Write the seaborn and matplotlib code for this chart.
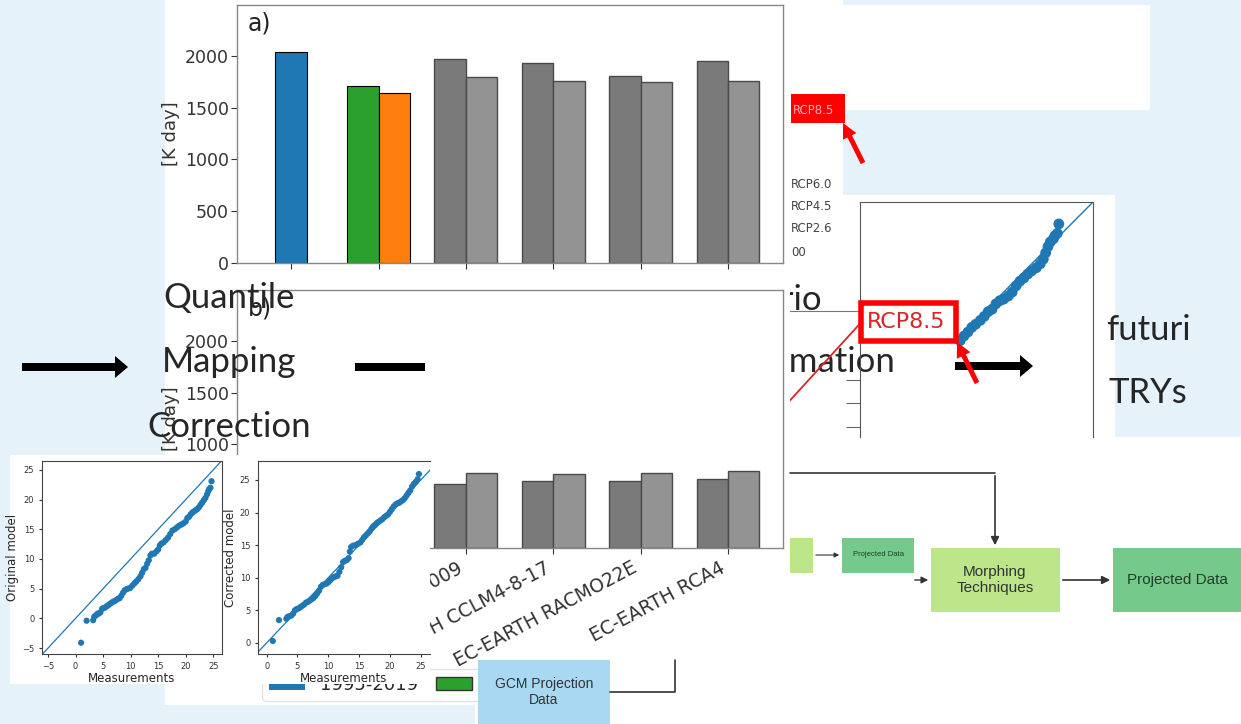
import pandas as pd
import seaborn as sns
import matplotlib.pyplot as plt
import matplotlib.transforms as mtrans
from matplotlib.patches import Rectangle, FancyArrow, FancyArrowPatch, Patch
from matplotlib.lines import Line2D

# --- dati dei grafici a barre (gradi giorno, [K day]) ---
gruppi = ['1995-2019', '1995-2019 corr.', '1980-2009', 'EC-EARTH CCLM4-8-17',
          'EC-EARTH RACMO22E', 'EC-EARTH RCA4']
periodi = ['storico', 'futuro']
a_misure = [2035]
a_corretti = [1710, 1642]
a_rcm_storico = [1971, 1932, 1807, 1952]
a_rcm_futuro = [1797, 1758, 1749, 1758]
b_misure = [640]
b_corretti = [700, 690]
b_rcm_storico = [618, 647, 647, 667]
b_rcm_futuro = [725, 715, 725, 744]
legenda = ['1995-2019', 'QM']

# --- QQ plot: modello originale vs misure ---
qq_orig_mis = [1.0, 2.0, 3.2, 3.4, 3.7, 4.0, 4.2, 4.5, 4.8, 5.0,
               5.3, 5.6, 5.9, 6.2, 6.5, 6.8, 7.1, 7.4, 7.7, 8.0,
               8.3, 8.6, 8.9, 9.2, 9.5, 9.9, 10.3, 10.7, 11.0, 11.4,
               11.8, 12.1, 12.4, 12.7, 13.0, 13.3, 13.6, 13.9, 14.3, 14.7,
               15.0, 15.3, 15.6, 16.0, 16.4, 16.8, 17.2, 17.6, 18.0, 18.4,
               18.8, 19.2, 19.6, 20.0, 20.3, 20.6, 20.9, 21.2, 21.5, 21.8,
               22.1, 22.4, 22.7, 23.0, 23.3, 23.6, 23.9, 24.1, 24.3, 24.5,
               24.7]
qq_orig_mod = [-4.1, -0.4, -0.3, 0.3, 0.5, 0.8, 0.8, 1.0, 1.6, 1.7,
               1.8, 2.0, 2.2, 2.4, 2.6, 2.8, 2.9, 3.1, 3.3, 3.4,
               3.8, 4.3, 4.7, 4.9, 5.0, 5.1, 5.5, 5.9, 6.2, 6.6,
               7.1, 7.7, 8.3, 8.5, 9.2, 9.8, 10.6, 10.9, 10.9, 11.3,
               11.6, 12.3, 12.6, 12.8, 13.2, 13.6, 14.2, 14.8, 15.0, 15.3,
               15.6, 15.8, 16.0, 16.3, 16.9, 17.1, 17.5, 17.8, 18.0, 18.2,
               18.4, 18.7, 19.1, 19.5, 19.9, 20.3, 20.9, 21.4, 21.8, 22.0,
               23.1]
# --- QQ plot: modello corretto vs misure ---
qq_corr_mis = [1.0, 2.0, 3.2, 3.4, 3.7, 4.0, 4.3, 4.6, 4.9, 5.2,
               5.5, 5.8, 6.1, 6.4, 6.7, 7.0, 7.3, 7.6, 7.9, 8.2,
               8.5, 8.8, 9.1, 9.4, 9.7, 10.0, 10.3, 10.6, 10.9, 11.2,
               11.5, 11.8, 12.1, 12.4, 12.7, 13.0, 13.3, 13.5, 13.7, 14.0,
               14.4, 14.8, 15.2, 15.5, 15.8, 16.1, 16.4, 16.7, 17.0, 17.3,
               17.6, 17.9, 18.2, 18.5, 18.8, 19.1, 19.4, 19.7, 20.0, 20.3,
               20.6, 20.9, 21.2, 21.5, 21.8, 22.1, 22.4, 22.7, 23.0, 23.3,
               23.6, 23.9, 24.2, 24.5, 24.7]
qq_corr_mod = [0.3, 3.5, 3.7, 4.0, 4.1, 4.2, 4.5, 5.0, 5.2, 5.3,
               5.5, 5.7, 5.9, 6.2, 6.3, 6.5, 6.7, 6.9, 7.2, 7.6,
               8.0, 8.6, 8.9, 9.0, 9.1, 9.3, 9.6, 9.9, 10.1, 10.2,
               10.3, 10.9, 11.6, 12.4, 12.6, 12.7, 13.0, 14.0, 14.7, 14.9,
               15.0, 15.2, 15.4, 15.8, 16.2, 16.5, 16.8, 17.1, 17.5, 17.9,
               18.1, 18.4, 18.6, 18.8, 19.0, 19.3, 19.5, 19.7, 20.1, 20.5,
               20.9, 21.2, 21.4, 21.5, 21.7, 21.9, 22.2, 22.6, 23.0, 23.4,
               24.0, 24.4, 24.7, 25.1, 25.9]
qq_lim = [-10, 30]
# --- QQ plot scenario RCP8.5 (ritagliato) ---
rcp_x = [12.9, 13.4, 13.9, 14.4, 14.9, 15.5, 16.0, 16.5, 17.0, 17.5,
         18.0, 18.5, 19.1, 19.6, 20.1, 20.6, 21.1, 21.6, 22.1, 22.7,
         23.2, 23.6, 23.9, 24.2, 24.5, 24.9, 25.1, 25.4, 25.6]
rcp_y = [12.3, 12.9, 13.4, 14.0, 14.4, 14.9, 15.4, 16.0, 16.3, 17.0,
         17.4, 17.6, 18.0, 18.5, 19.3, 19.9, 20.3, 20.8, 21.2, 21.6,
         22.1, 22.7, 23.5, 24.3, 24.9, 25.3, 25.7, 26.0, 27.2]
rcp_lim = [12.5, 30]
rosso_x = [0, 1]
rosso_y = [0.29, 0.9]
rcp_etichette = ['RCP6.0', 'RCP4.5', 'RCP2.6', '00']

W, H = 1241, 724
sns.set_style('white', {'xtick.bottom': True, 'ytick.left': True})
plt.rcParams['font.family'] = ['DejaVu Sans']

fig = plt.figure(figsize=(W / 100, H / 100), dpi=100)
fig.patch.set_facecolor('#e5f2fa')
tpx = mtrans.Affine2D().scale(1 / W, -1 / H).translate(0, 1) + fig.transFigure


def assi(x0, y0, x1, y1, z):
    return fig.add_axes([x0 / W, 1 - y1 / H, (x1 - x0) / W, (y1 - y0) / H], zorder=z)


def rett(x0, y0, x1, y1, z, **kw):
    fig.add_artist(Rectangle((x0, y0), x1 - x0, y1 - y0, transform=tpx, zorder=z, **kw))


def freccia(x0, y0, x1, y1, z, w=8, hw=22, hl=13, col='black'):
    fig.add_artist(FancyArrow(x0, y0, x1 - x0, y1 - y0, width=w, head_width=hw, head_length=hl,
                              length_includes_head=True, transform=tpx, zorder=z, color=col, lw=0))


def testo(x, y, s, z, **kw):
    fig.text(x / W, 1 - y / H, s, zorder=z, **kw)


# sfondi bianchi delle immagini incollate
rett(165, 0, 425, 705, 0.1, color='white', lw=0)
rett(790, 5, 1150, 110, 0.1, color='white', lw=0)
rett(790, 0, 843, 290, 0.1, color='white', lw=0)
rett(783, 230, 860, 437, 0.1, color='white', lw=0)
rett(843, 195, 1115, 437, 0.1, color='white', lw=0)
rett(475, 437, 1241, 724, 0.1, color='white', lw=0)
testo(822, 300, 'Scenario', 0.2, fontsize=25, family='Lato', ha='right', va='center')
testo(895, 362, 'Transformation', 0.2, fontsize=25, family='Lato', ha='right', va='center')
freccia(22, 367, 128, 367, 0.2)
freccia(355, 367, 470, 367, 0.2)
rett(425, 0, 790, 705, 0.3, color='white', lw=0)


def barre(ax, misure, corretti, storico, futuro):
    df_mis = pd.DataFrame({'gruppo': gruppi[:1], 'valore': misure})
    sns.barplot(data=df_mis, x='gruppo', y='valore', order=gruppi, color='#1f77b4',
                width=0.36, saturation=1, edgecolor='black', linewidth=0.8, errorbar=None, ax=ax)
    df_corr = pd.DataFrame({'gruppo': [gruppi[1]] * 2, 'periodo': periodi, 'valore': corretti})
    sns.barplot(data=df_corr, x='gruppo', y='valore', hue='periodo', order=gruppi, hue_order=periodi,
                palette=['#2ca02c', '#ff7f0e'], width=0.72, saturation=1, edgecolor='black',
                linewidth=0.8, errorbar=None, legend=False, ax=ax)
    df_rcm = pd.DataFrame({'gruppo': gruppi[2:] * 2,
                           'periodo': ['storico'] * 4 + ['futuro'] * 4,
                           'valore': storico + futuro})
    sns.barplot(data=df_rcm, x='gruppo', y='valore', hue='periodo', order=gruppi, hue_order=periodi,
                palette=['#7a7a7a', '#939393'], width=0.72, saturation=1, edgecolor='#4a4a4a',
                linewidth=1.0, errorbar=None, legend=False, ax=ax)
    ax.set_xlim(-0.62, 5.63)
    ax.set_ylim(0, 2490)
    ax.set_yticks([0, 500, 1000, 1500, 2000])
    ax.tick_params(axis='y', labelsize=12.5, colors='#333333', length=4, pad=2)
    ax.tick_params(axis='x', length=4, colors='#333333')
    ax.set_xlabel('')
    ax.set_ylabel('[K day]', fontsize=13, color='#333333', labelpad=3)
    ax.set_facecolor('none')
    for s in ax.spines.values():
        s.set_color('#888888')
        s.set_linewidth(1.0)


# pannello a)
ax_a = assi(237, 5, 783, 263, 1)
barre(ax_a, a_misure, a_corretti, a_rcm_storico, a_rcm_futuro)
ax_a.set_xticks(range(len(gruppi)))
ax_a.set_xticklabels([])
ax_a.text(0.02, 0.93, 'a)', transform=ax_a.transAxes, fontsize=17, va='center', color='#222222')

# pannello b)
ax_b = assi(237, 290, 783, 548, 1)
barre(ax_b, b_misure, b_corretti, b_rcm_storico, b_rcm_futuro)
ax_b.set_xticks(range(len(gruppi)))
ax_b.set_xticklabels(gruppi, rotation=28, ha='right', fontsize=13.5, color='#333333')
ax_b.text(0.02, 0.93, 'b)', transform=ax_b.transAxes, fontsize=17, va='center', color='#222222')
maniglie = [Patch(facecolor='#1f77b4', edgecolor='none'),
            Patch(facecolor='#2ca02c', edgecolor='#333333')]
ax_b.legend(maniglie, legenda, loc='lower left', bbox_to_anchor=(262 / W, 1 - 701 / H),
            bbox_transform=fig.transFigure, ncol=2, fontsize=13, handlelength=2.0,
            handleheight=0.7, columnspacing=1.0, frameon=True, edgecolor='#dddddd',
            borderaxespad=0)

# immagine QQ (sopra al pannello b)
rett(10, 455, 430, 684, 2, color='white', lw=0)


def qq(ax, mis, mod, xlim, ylim, ylab, xt, yt):
    sns.scatterplot(x=mis, y=mod, ax=ax, s=20, color='#1f77b4', edgecolor='none')
    sns.lineplot(x=qq_lim, y=qq_lim, ax=ax, color='#1f77b4', lw=0.9)
    ax.set_xlim(*xlim)
    ax.set_ylim(*ylim)
    ax.set_xticks(xt)
    ax.set_yticks(yt)
    ax.tick_params(labelsize=6, colors='#333333', length=2)
    ax.set_xlabel('Measurements', fontsize=8.5, labelpad=1)
    ax.set_ylabel(ylab, fontsize=8.5, labelpad=2)
    for s in ax.spines.values():
        s.set_color('#444444')
        s.set_linewidth(0.8)


ax_q1 = assi(42, 461, 222, 654, 3)
qq(ax_q1, qq_orig_mis, qq_orig_mod, (-6.1, 26.6), (-6.0, 26.5), 'Original model',
   [-5, 0, 5, 10, 15, 20, 25], [-5, 0, 5, 10, 15, 20, 25])
ax_q2 = assi(258, 461, 430, 654, 3)
qq(ax_q2, qq_corr_mis, qq_corr_mod, (-1.4, 26.5), (-1.7, 27.9), 'Corrected model',
   [0, 5, 10, 15, 20, 25], [0, 5, 10, 15, 20, 25])
ax_q2.spines['right'].set_visible(False)

# QQ scenario (a destra)
ax_q3 = assi(860, 202, 1093, 437, 1)
ax_q3.set_facecolor('none')
sns.lineplot(x=rcp_lim, y=rcp_lim, ax=ax_q3, color='#1f77b4', lw=1.0)
sns.scatterplot(x=rcp_x, y=rcp_y, ax=ax_q3, s=60, color='#1f77b4', edgecolor='none')
ax_q3.set_xlim(0, 30)
ax_q3.set_ylim(0, 30)
ax_q3.set_xticks([])
ax_q3.set_yticks([1.3, 4.3, 7.3])
ax_q3.set_yticklabels([])
ax_q3.tick_params(axis='y', length=10, colors='#666666')
ax_q3.spines['bottom'].set_visible(False)
for s in ['left', 'top', 'right']:
    ax_q3.spines[s].set_color('#555555')

ax_r = assi(790, 311, 860, 437, 1)
ax_r.set_facecolor('none')
sns.lineplot(x=rosso_x, y=rosso_y, ax=ax_r, color='#d62728', lw=1.3)
ax_r.set_xlim(0, 1)
ax_r.set_ylim(0, 1)
ax_r.set_xticks([])
ax_r.set_yticks([])
for s in ['left', 'bottom', 'right']:
    ax_r.spines[s].set_visible(False)
ax_r.spines['top'].set_color('#777777')

# testi della slide
for y, s in zip([298, 362, 427], ['Quantile', 'Mapping', 'Correction']):
    testo(229, y, s, 5, fontsize=25, family='Lato', ha='center', va='center')
testo(1148, 330, 'futuri', 5, fontsize=25, family='Lato', ha='center', va='center')
testo(1148, 393, 'TRYs', 5, fontsize=25, family='Lato', ha='center', va='center')
freccia(955, 366, 1033, 366, 5)

# etichette RCP e riquadri rossi
for y, s in zip([184, 206, 228, 252], rcp_etichette):
    testo(791, y, s, 5, fontsize=8.5, color='#444444', va='center')
rett(791, 94, 845, 123, 5, color='#ff0000', lw=0)
testo(793, 110, 'RCP8.5', 5, fontsize=8.5, color='#ffb3b3', va='center')
rett(861, 303, 956, 341, 5, facecolor='white', edgecolor='#ff0000', lw=4)
testo(867, 322, 'RCP8.5', 5, fontsize=16, color='#d62728', va='center')
freccia(863, 163, 843, 123, 6, w=5, hw=15, hl=15, col='#ff0000')
freccia(977, 383, 957, 342, 6, w=5, hw=15, hl=15, col='#ff0000')

# diagramma di flusso
fc = '#333333'
fig.add_artist(Line2D([790, 995], [473, 473], transform=tpx, color=fc, lw=1.2, zorder=5))
fig.add_artist(FancyArrowPatch((995, 473), (995, 548), transform=tpx, arrowstyle='-|>',
                               mutation_scale=12, color=fc, lw=1.2, zorder=5))
rett(790, 538, 813, 573, 5, color='#bde68a', lw=0)
fig.add_artist(FancyArrowPatch((813, 555), (842, 555), transform=tpx, arrowstyle='-|>',
                               mutation_scale=7, color=fc, lw=0.8, zorder=5))
rett(842, 538, 914, 573, 5, color='#74c98b', lw=0)
testo(878, 555, 'Projected Data', 5, fontsize=5.5, color='#1f3f2a', ha='center', va='center',
      family=['Liberation Sans Narrow', 'Liberation Sans'])
fig.add_artist(FancyArrowPatch((912, 580), (931, 580), transform=tpx, arrowstyle='-|>',
                               mutation_scale=10, color=fc, lw=1.0, zorder=5))
rett(931, 548, 1060, 612, 5, color='#bde68a', lw=0)
testo(995, 580, 'Morphing\nTechniques', 5, fontsize=11, color='#333333', ha='center',
      va='center', family=['Liberation Sans Narrow', 'Liberation Sans'])
fig.add_artist(FancyArrowPatch((1060, 580), (1113, 580), transform=tpx, arrowstyle='-|>',
                               mutation_scale=12, color=fc, lw=1.2, zorder=5))
rett(1113, 548, 1241, 612, 5, color='#74c98b', lw=0)
testo(1177, 580, 'Projected Data', 5, fontsize=11, color='#1f3f2a', ha='center',
      va='center', family=['Liberation Sans Narrow', 'Liberation Sans'])
rett(478, 660, 610, 724, 5, color='#a9d9f2', lw=0)
testo(544, 692, 'GCM Projection\nData', 5, fontsize=10, color='#333333', ha='center',
      va='center', family=['Liberation Sans Narrow', 'Liberation Sans'])
fig.add_artist(Line2D([610, 675, 675], [692, 692, 660], transform=tpx, color=fc, lw=1.2, zorder=5))

fig.savefig('out.png', dpi=100, facecolor=fig.get_facecolor())
